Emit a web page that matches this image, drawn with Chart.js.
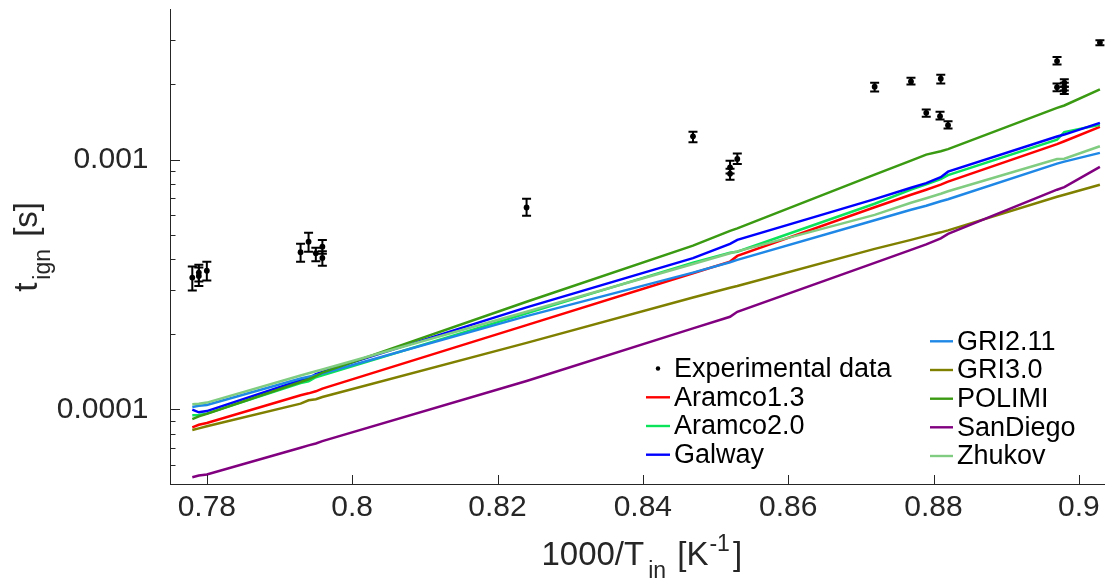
<!DOCTYPE html>
<html><head><meta charset="utf-8">
<script src="https://cdn.jsdelivr.net/npm/chart.js@4"></script>
<style>html,body{margin:0;padding:0;background:#fff;overflow:hidden}</style>
</head><body>
<canvas id="c" width="1105" height="581"></canvas>
<script>
// ---------- data ----------
const xTickValues = [0.78, 0.8, 0.82, 0.84, 0.86, 0.88, 0.9];
const xTickLabels = ['0.78', '0.8', '0.82', '0.84', '0.86', '0.88', '0.9'];
const yTickValues = [0.0001, 0.001];
const yTickLabels = ['0.0001', '0.001'];
const yMinorTicks = [6e-5, 7e-5, 8e-5, 9e-5, 2e-4, 3e-4, 4e-4, 5e-4, 6e-4, 7e-4, 8e-4, 9e-4, 2e-3, 3e-3];

const expX    = [0.778, 0.7789, 0.7789, 0.78, 0.7929, 0.794, 0.795, 0.7959, 0.7959, 0.824, 0.8469, 0.852, 0.852, 0.853, 0.8719, 0.8769, 0.879, 0.8809, 0.881, 0.882, 0.897, 0.897, 0.898, 0.898, 0.898, 0.9029];
const expT    = [3.37e-4, 3.53e-4, 3.42e-4, 3.59e-4, 4.26e-4, 4.69e-4, 4.22e-4, 4.48e-4, 4.04e-4, 6.43e-4, 1.24e-3, 9.31e-4, 8.78e-4, 1.0065e-3, 1.959e-3, 2.057e-3, 1.540e-3, 1.492e-3, 2.110e-3, 1.373e-3, 2.482e-3, 1.951e-3, 2.032e-3, 1.959e-3, 1.893e-3, 2.942e-3];
const expLow  = [2.99e-4, 3.25e-4, 3.12e-4, 3.28e-4, 3.90e-4, 4.28e-4, 3.92e-4, 4.20e-4, 3.76e-4, 5.96e-4, 1.174e-3, 8.8e-4, 8.31e-4, 0.961e-3, 1.876e-3, 2.001e-3, 1.484e-3, 1.448e-3, 2.019e-3, 1.332e-3, 2.407e-3, 1.88e-3, 1.96e-3, 1.89e-3, 1.83e-3, 2.869e-3];
const expHigh = [3.73e-4, 3.79e-4, 3.70e-4, 3.90e-4, 4.60e-4, 5.09e-4, 4.44e-4, 4.77e-4, 4.30e-4, 6.97e-4, 1.292e-3, 9.9e-4, 9.2e-4, 1.057e-3, 2.032e-3, 2.129e-3, 1.588e-3, 1.555e-3, 2.189e-3, 1.425e-3, 2.576e-3, 2.02e-3, 2.10e-3, 2.03e-3, 1.96e-3, 3.005e-3];

const simX = [0.778, 0.7789, 0.78, 0.7929, 0.794, 0.795, 0.7959, 0.824, 0.8469, 0.852, 0.853, 0.8719, 0.8769, 0.879, 0.881, 0.882, 0.897, 0.898, 0.9029];
const aramco13 = [8.47e-5, 8.67e-5, 8.81e-5, 1.138e-4, 1.159e-4, 1.181e-4, 1.211e-4, 2.174e-4, 3.507e-4, 3.905e-4, 4.116e-4, 6.445e-4, 7.235e-4, 7.578e-4, 7.94e-4, 8.16e-4, 1.154e-3, 1.185e-3, 1.353e-3];
const aramco20 = [9.46e-5, 9.50e-5, 9.61e-5, 1.275e-4, 1.296e-4, 1.344e-4, 1.369e-4, 2.423e-4, 3.87e-4, 4.24e-4, 4.28e-4, 6.66e-4, 7.58e-4, 7.97e-4, 8.35e-4, 8.67e-4, 1.203e-3, 1.289e-3, 1.38e-3];
const galway   = [9.97e-5, 9.73e-5, 9.84e-5, 1.308e-4, 1.332e-4, 1.382e-4, 1.412e-4, 2.561e-4, 4.03e-4, 4.60e-4, 4.77e-4, 6.95e-4, 7.72e-4, 8.05e-4, 8.51e-4, 8.95e-4, 1.238e-3, 1.260e-3, 1.404e-3];
const gri211   = [1.022e-4, 1.033e-4, 1.041e-4, 1.328e-4, 1.351e-4, 1.369e-4, 1.391e-4, 2.363e-4, 3.527e-4, 3.883e-4, 3.967e-4, 5.715e-4, 6.30e-4, 6.54e-4, 6.81e-4, 6.94e-4, 9.64e-4, 9.82e-4, 1.064e-3];
const gri30    = [8.26e-5, 8.39e-5, 8.55e-5, 1.054e-4, 1.087e-4, 1.097e-4, 1.120e-4, 1.846e-4, 2.804e-4, 3.069e-4, 3.119e-4, 4.392e-4, 4.772e-4, 4.95e-4, 5.115e-4, 5.21e-4, 7.10e-4, 7.235e-4, 7.936e-4];
const polimi   = [9.14e-5, 9.37e-5, 9.59e-5, 1.287e-4, 1.320e-4, 1.357e-4, 1.404e-4, 2.697e-4, 4.527e-4, 5.187e-4, 5.308e-4, 8.71e-4, 9.91e-4, 1.047e-3, 1.080e-3, 1.102e-3, 1.612e-3, 1.648e-3, 1.910e-3];
const sanDiego = [5.35e-5, 5.43e-5, 5.48e-5, 7.02e-5, 7.17e-5, 7.30e-5, 7.46e-5, 1.299e-4, 2.109e-4, 2.348e-4, 2.459e-4, 3.857e-4, 4.351e-4, 4.577e-4, 4.838e-4, 5.044e-4, 7.578e-4, 7.755e-4, 9.35e-4];
const zhukov   = [1.047e-4, 1.052e-4, 1.064e-4, 1.366e-4, 1.395e-4, 1.421e-4, 1.444e-4, 2.459e-4, 3.822e-4, 4.22e-4, 4.29e-4, 6.01e-4, 6.72e-4, 7.00e-4, 7.30e-4, 7.47e-4, 1.005e-3, 1.009e-3, 1.131e-3];

const modelNames  = ['Aramco1.3', 'Aramco2.0', 'Galway', 'GRI2.11', 'GRI3.0', 'POLIMI', 'SanDiego', 'Zhukov'];
const modelValues = [aramco13, aramco20, galway, gri211, gri30, polimi, sanDiego, zhukov];
const modelColors = ['#ff0000', '#0ae35a', '#0000ff', '#1f88e6', '#808000', '#3a9a12', '#800080', '#80cc80'];
const expLabel = 'Experimental data';

// ---------- style ----------
const FONT = '"Liberation Sans", Arial, Helvetica, sans-serif';
const AXIS = '#262626';
Chart.defaults.font.family = FONT;

function pts(xs, ys) { return xs.map((x, i) => ({ x: x, y: ys[i] })); }

const datasets = [];
for (let i = modelNames.length - 1; i >= 0; i--) {
  datasets.push({ type: 'line', label: modelNames[i], data: pts(simX, modelValues[i]),
    borderColor: modelColors[i], backgroundColor: modelColors[i], borderWidth: 2.5,
    pointRadius: 0, pointHoverRadius: 0, fill: false, tension: 0 });
}
datasets.push({ type: 'scatter', label: expLabel, data: pts(expX, expT),
  backgroundColor: '#000', borderColor: '#000', pointRadius: 2.9, pointHoverRadius: 0, borderWidth: 0 });

const errorBars = {
  id: 'errorBars',
  afterDatasetsDraw(chart) {
    const ctx = chart.ctx, xs = chart.scales.x, ys = chart.scales.y;
    ctx.save();
    ctx.strokeStyle = '#000'; ctx.lineWidth = 2;
    for (let i = 0; i < expX.length; i++) {
      const px = xs.getPixelForValue(expX[i]);
      const pl = ys.getPixelForValue(expLow[i]);
      const ph = ys.getPixelForValue(expHigh[i]);
      ctx.beginPath();
      ctx.moveTo(px, pl); ctx.lineTo(px, ph);
      ctx.moveTo(px - 4.5, pl); ctx.lineTo(px + 4.5, pl);
      ctx.moveTo(px - 4.5, ph); ctx.lineTo(px + 4.5, ph);
      ctx.stroke();
    }
    ctx.restore();
  }
};

const inwardTicks = {
  id: 'inwardTicks',
  afterDraw(chart) {
    const ctx = chart.ctx, xs = chart.scales.x, ys = chart.scales.y, a = chart.chartArea;
    ctx.save();
    ctx.strokeStyle = AXIS; ctx.lineWidth = 1;
    ctx.beginPath();
    xTickValues.forEach(v => { const p = Math.round(xs.getPixelForValue(v)) + 0.5; ctx.moveTo(p, a.bottom); ctx.lineTo(p, a.bottom - 9.5); });
    yTickValues.forEach(v => { const p = Math.round(ys.getPixelForValue(v)) + 0.5; ctx.moveTo(a.left, p); ctx.lineTo(a.left + 9.5, p); });
    yMinorTicks.forEach(v => { const p = Math.round(ys.getPixelForValue(v)) + 0.5; ctx.moveTo(a.left, p); ctx.lineTo(a.left + 5, p); });
    ctx.stroke();
    ctx.restore();
  }
};

function drawRich(ctx, segs, startX, baseY) {
  let x = startX;
  segs.forEach(s => {
    ctx.font = s.size + 'px ' + FONT;
    x += (s.pre || 0);
    ctx.fillText(s.t, x, baseY + (s.dy || 0));
    x += ctx.measureText(s.t).width;
  });
}
function richWidth(ctx, segs) {
  let w = 0;
  segs.forEach(s => { ctx.font = s.size + 'px ' + FONT; w += (s.pre || 0) + ctx.measureText(s.t).width; });
  return w;
}

const axisTitles = {
  id: 'axisTitles',
  afterDraw(chart) {
    const ctx = chart.ctx, a = chart.chartArea;
    ctx.save();
    ctx.fillStyle = AXIS; ctx.textBaseline = 'alphabetic'; ctx.textAlign = 'left';
    const xSegs = [
      { t: '1000/T', size: 33 }, { t: 'in', size: 23, dy: 13, pre: 4 },
      { t: ' [K', size: 33, pre: 2 }, { t: '-1', size: 23, dy: -14, pre: 1 }, { t: ']', size: 33, pre: 3 }];
    const wx = richWidth(ctx, xSegs);
    drawRich(ctx, xSegs, (a.left + a.right) / 2 + 4 - wx / 2, 565);
    const ySegs = [
      { t: 't', size: 33 }, { t: 'ign', size: 23, dy: 13, pre: 3 }, { t: ' [s]', size: 33, pre: 3 }];
    const wy = richWidth(ctx, ySegs);
    ctx.translate(36.5, (a.top + a.bottom) / 2);
    ctx.rotate(-Math.PI / 2);
    drawRich(ctx, ySegs, -wy / 2, 0);
    ctx.restore();
  }
};

const customLegend = {
  id: 'customLegend',
  afterDraw(chart) {
    const ctx = chart.ctx;
    ctx.save();
    ctx.font = '27px ' + FONT;
    ctx.fillStyle = '#000'; ctx.textBaseline = 'middle'; ctx.textAlign = 'left';
    const leftRows = [368.5, 397.3, 426, 454.7];
    ctx.beginPath(); ctx.arc(658, leftRows[0], 2.2, 0, Math.PI * 2); ctx.fill();
    ctx.fillText(expLabel, 674, leftRows[0] + 1);
    for (let i = 0; i < 3; i++) {
      ctx.strokeStyle = modelColors[i]; ctx.lineWidth = 2.4;
      ctx.beginPath(); ctx.moveTo(646, leftRows[i + 1]); ctx.lineTo(670, leftRows[i + 1]); ctx.stroke();
      ctx.fillStyle = '#000'; ctx.fillText(modelNames[i], 674, leftRows[i + 1] + 1);
    }
    const rightRows = [341.3, 370, 398.7, 427.3, 456];
    for (let i = 3; i < 8; i++) {
      const y = rightRows[i - 3];
      ctx.strokeStyle = modelColors[i]; ctx.lineWidth = 2.4;
      ctx.beginPath(); ctx.moveTo(930, y); ctx.lineTo(953, y); ctx.stroke();
      ctx.fillStyle = '#000'; ctx.fillText(modelNames[i], 957, y + 1);
    }
    ctx.restore();
  }
};

new Chart(document.getElementById('c'), {
  data: { datasets: datasets },
  options: {
    responsive: false, animation: false, devicePixelRatio: 1,
    layout: { autoPadding: false, padding: { top: 9.3, left: 0, right: 0, bottom: 0 } },
    plugins: { legend: { display: false }, tooltip: { enabled: false } },
    events: [],
    scales: {
      x: {
        type: 'linear', min: 0.775, max: 0.9036,
        afterBuildTicks: s => { s.ticks = xTickValues.map(v => ({ value: v })); },
        afterFit: s => { s.height = 96.5; s.paddingLeft = 0; s.paddingRight = 0; },
        ticks: { callback: v => xTickLabels[xTickValues.indexOf(v)], font: { size: 30 }, color: AXIS, padding: 5, maxRotation: 0, autoSkip: false },
        grid: { display: false, drawTicks: false },
        border: { display: true, color: AXIS, width: 1 }
      },
      y: {
        type: 'logarithmic', min: 5e-5, max: 0.004,
        afterBuildTicks: s => { s.ticks = yTickValues.map(v => ({ value: v })); },
        afterFit: s => { s.width = 170.5; s.paddingTop = 0; s.paddingBottom = 0; },
        ticks: { callback: v => yTickLabels[yTickValues.indexOf(v)], font: { size: 30 }, color: AXIS, padding: 22, autoSkip: false },
        grid: { display: false, drawTicks: false },
        border: { display: true, color: AXIS, width: 1 }
      }
    }
  },
  plugins: [errorBars, inwardTicks, axisTitles, customLegend]
});
</script>
</body></html>
